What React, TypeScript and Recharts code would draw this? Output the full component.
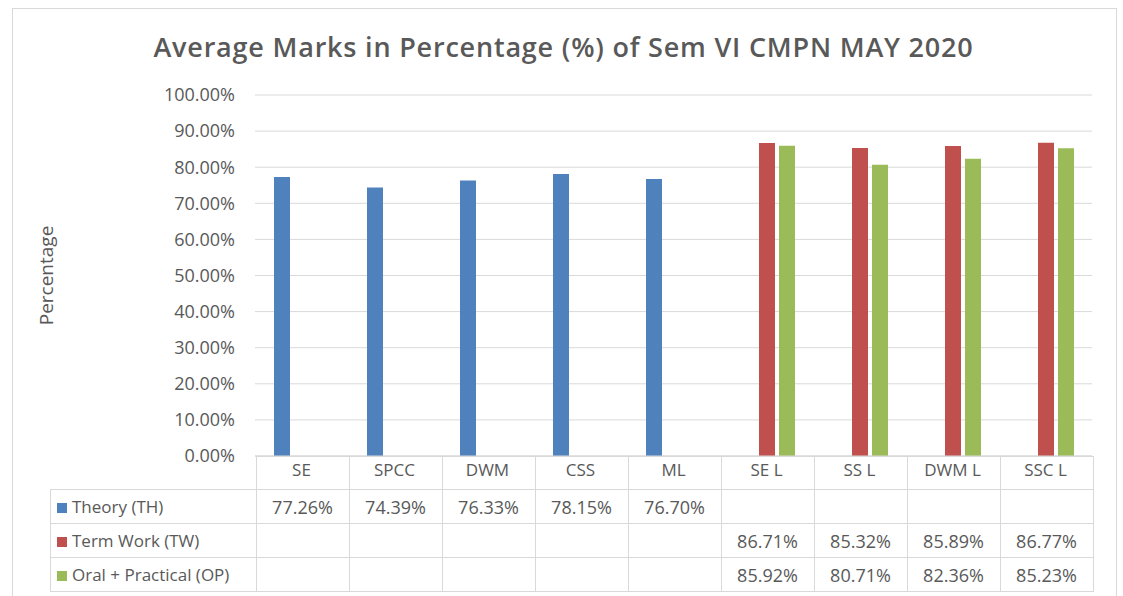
import { BarChart, Bar, XAxis, YAxis, CartesianGrid } from 'recharts';

// subjects shown along the x axis
const categories = ['SE', 'SPCC', 'DWM', 'CSS', 'ML', 'SE L', 'SS L', 'DWM L', 'SSC L'];

// average marks (%) per component
const theory = [77.26, 74.39, 76.33, 78.15, 76.7, null, null, null, null];
const termWork = [null, null, null, null, null, 86.71, 85.32, 85.89, 86.77];
const oralPractical = [null, null, null, null, null, 85.92, 80.71, 82.36, 85.23];

const yTicks = [0, 10, 20, 30, 40, 50, 60, 70, 80, 90, 100];

const series = [
  { key: 'th', name: 'Theory (TH)', values: theory, color: '#4f81bd' },
  { key: 'tw', name: 'Term Work (TW)', values: termWork, color: '#c0504d' },
  { key: 'op', name: 'Oral + Practical (OP)', values: oralPractical, color: '#9bbb59' },
];

const data = categories.map((name, i) => {
  const row: Record<string, string | number | null> = { name };
  series.forEach(s => {
    row[s.key] = s.values[i];
  });
  return row;
});

const FONT = '"Open Sans", "Liberation Sans", sans-serif';
const TEXT = '#595959';
const GRID = '#d9d9d9';

const fmt = (v: number) => `${v.toFixed(2)}%`;

export default function App() {
  return (
    <div style={{ position: 'absolute', left: 0, top: 0, width: 1123, height: 596, background: '#fff', overflow: 'hidden', fontFamily: FONT }}>
      <div style={{ position: 'absolute', left: 12, top: 8, width: 1105, height: 600, border: `1px solid ${GRID}`, boxSizing: 'border-box' }} />

      <div
        style={{
          position: 'absolute',
          left: 0,
          top: 28,
          width: 1127,
          textAlign: 'center',
          fontSize: 27,
          fontWeight: 600,
          letterSpacing: 0.8,
          color: TEXT,
        }}
      >
        Average Marks in Percentage (%) of Sem VI CMPN MAY 2020
      </div>

      <div style={{ position: 'absolute', left: 0, top: 0 }}>
        <BarChart
          width={1123}
          height={596}
          data={data}
          margin={{ top: 95, right: 31, bottom: 106, left: 0 }}
          barSize={16}
          barGap={4}
        >
          <CartesianGrid vertical={false} stroke={GRID} />
          <XAxis
            dataKey="name"
            height={34}
            axisLine={{ stroke: GRID }}
            tickLine={false}
            tickSize={0}
            tickMargin={8}
            tick={{ fill: TEXT, fontSize: 17, fontFamily: FONT }}
          />
          <YAxis
            width={255}
            domain={[0, 100]}
            ticks={yTicks}
            tickFormatter={fmt}
            axisLine={false}
            tickLine={false}
            tickSize={0}
            tickMargin={20}
            tick={{ fill: TEXT, fontSize: 18, fontFamily: FONT }}
            label={{
              value: 'Percentage',
              angle: -90,
              position: 'insideLeft',
              offset: 46,
              style: { textAnchor: 'middle', fill: TEXT, fontSize: 19, fontFamily: FONT },
            }}
          />
          {series.map(s => (
            <Bar key={s.key} dataKey={s.key} name={s.name} fill={s.color} isAnimationActive={false} />
          ))}
        </BarChart>
      </div>

      <table
        style={{
          position: 'absolute',
          left: 50,
          top: 456,
          borderCollapse: 'collapse',
          tableLayout: 'fixed',
          color: TEXT,
          fontSize: 18,
        }}
      >
        <tbody>
          <tr style={{ height: 33 }}>
            <td style={{ width: 203, border: 'none' }} />
            {categories.map(c => (
              <td key={c} style={{ width: 92, border: `1px solid ${GRID}`, padding: 0 }} />
            ))}
          </tr>
          {series.map(s => (
            <tr key={s.key} style={{ height: 34 }}>
              <td style={{ border: `1px solid ${GRID}`, padding: '0 0 0 6px', whiteSpace: 'nowrap', fontSize: 17 }}>
                <span style={{ display: 'inline-block', width: 10, height: 10, background: s.color, marginRight: 5 }} />
                {s.name}
              </td>
              {s.values.map((v, i) => (
                <td key={i} style={{ border: `1px solid ${GRID}`, padding: 0, textAlign: 'center' }}>
                  {v == null ? '' : fmt(v)}
                </td>
              ))}
            </tr>
          ))}
        </tbody>
      </table>
    </div>
  );
}
